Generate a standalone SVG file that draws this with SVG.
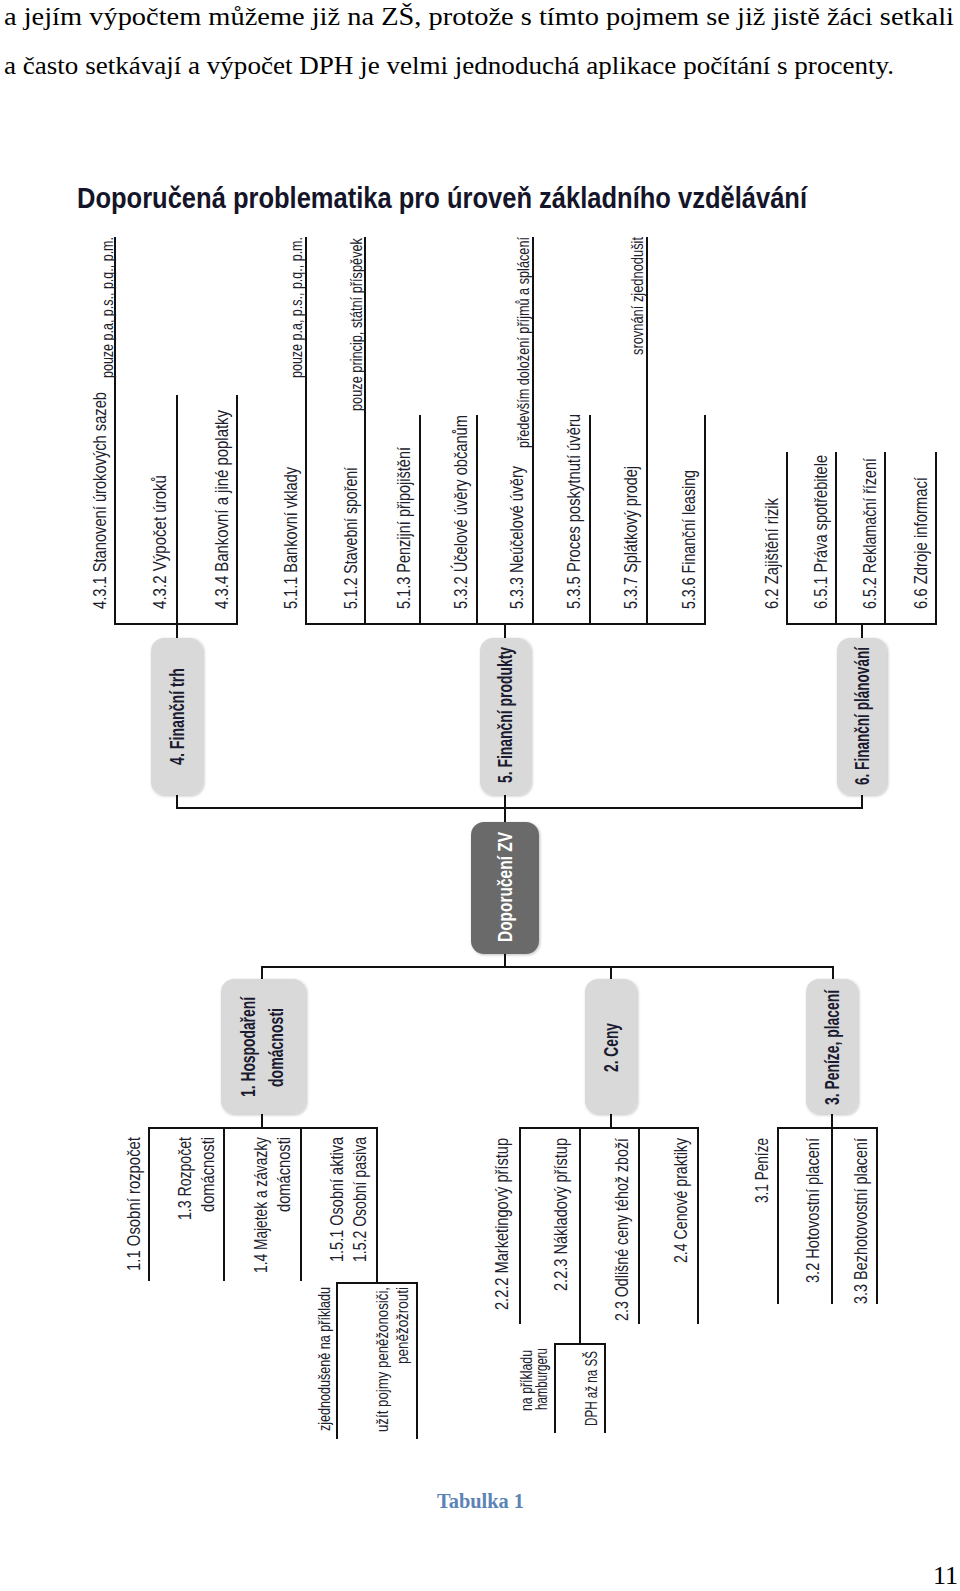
<svg xmlns="http://www.w3.org/2000/svg" width="960" height="1591" viewBox="0 0 960 1591">
<style>
.bg{fill:#fff}
.hd{font-family:"Liberation Serif","Times New Roman",serif;font-size:26px;fill:#000}
.ti{font-family:"Liberation Sans",Arial,sans-serif;font-size:29px;font-weight:bold;fill:#15152a}
.t{font-family:"Liberation Sans",Arial,sans-serif;font-size:19px;fill:#20202c}
.a{font-size:16px}
.nt{font-family:"Liberation Sans",Arial,sans-serif;font-size:20px;font-weight:bold;fill:#1a1a30}
.wt{fill:#fff}
.ln{stroke:#111;stroke-width:2;fill:none}
.box{fill:#d9d9d9;filter:url(#sh)}
.dark{fill:#6a6a6a;filter:url(#sh)}
.cap{font-family:"Liberation Serif","Times New Roman",serif;font-size:20px;font-weight:bold;fill:#5b83b5}
</style>
<defs>
<filter id="sh" x="-20%" y="-20%" width="140%" height="140%">
<feDropShadow dx="1" dy="1" stdDeviation="1.5" flood-color="#000" flood-opacity="0.25"/>
</filter>
</defs>
<rect class="bg" x="0" y="0" width="960" height="1591"/>
<text class="hd" x="4" y="25" textLength="950" lengthAdjust="spacingAndGlyphs">a jejím výpočtem můžeme již na ZŠ, protože s tímto pojmem se již jistě žáci setkali</text>
<text class="hd" x="4" y="74" textLength="890" lengthAdjust="spacingAndGlyphs">a často setkávají a výpočet DPH je velmi jednoduchá aplikace počítání s procenty.</text>
<text class="ti" x="77" y="208" textLength="730" lengthAdjust="spacingAndGlyphs">Doporučená problematika pro úroveň základního vzdělávání</text>

<g id="connectors" class="ln">
<path d="M115 237V624H237V395"/>
<path d="M177 395V638"/>
<path d="M306 237V624H705V415"/>
<path d="M365 237V624M420 415V624M477 415V624M533 237V624M590 415V624M647 237V624"/>
<path d="M505 624V638"/>
<path d="M787 452V624H936V452M836 452V624M885 452V624M862 624V638"/>
<path d="M177 795V808H862V795M505 795V822"/>
<path d="M505 954V967M262 979V967H833V979M611 967V979"/>
<path d="M262 1114V1128M149 1281V1128H377V1283M224 1128V1281M301 1128V1281M337 1439V1283H417V1439"/>
<path d="M611 1114V1128M520 1324V1128H698V1324M639 1128V1324M580 1128V1344M555 1433V1344H605V1433"/>
<path d="M832 1114V1128M778 1304V1128H877V1304M832 1128V1304"/>
</g>

<g id="node-root"><rect class="dark" x="471" y="822" width="68" height="132" rx="13"/><text class="nt wt" transform="translate(512,942) rotate(-90)" textLength="110" lengthAdjust="spacingAndGlyphs">Doporučení ZV</text></g>
<g id="node-4"><rect class="box" x="151" y="638" width="52" height="157" rx="13"/><text class="nt" transform="translate(184,765) rotate(-90)" textLength="97" lengthAdjust="spacingAndGlyphs">4. Finanční trh</text></g>
<g id="node-5"><rect class="box" x="480" y="638" width="51" height="157" rx="13"/><text class="nt" transform="translate(512,783) rotate(-90)" textLength="136" lengthAdjust="spacingAndGlyphs">5. Finanční produkty</text></g>
<g id="node-6"><rect class="box" x="837" y="638" width="50" height="157" rx="13"/><text class="nt" transform="translate(869,785) rotate(-90)" textLength="138" lengthAdjust="spacingAndGlyphs">6. Finanční plánování</text></g>
<g id="node-1"><rect class="box" x="221" y="979" width="85" height="135" rx="13"/><text class="nt" transform="translate(255,1097) rotate(-90)" textLength="100" lengthAdjust="spacingAndGlyphs">1. Hospodaření</text><text class="nt" transform="translate(283,1087) rotate(-90)" textLength="79" lengthAdjust="spacingAndGlyphs">domácnosti</text></g>
<g id="node-2"><rect class="box" x="585" y="979" width="52" height="135" rx="13"/><text class="nt" transform="translate(618,1072) rotate(-90)" textLength="49" lengthAdjust="spacingAndGlyphs">2. Ceny</text></g>
<g id="node-3"><rect class="box" x="806" y="979" width="52" height="135" rx="13"/><text class="nt" transform="translate(839,1105) rotate(-90)" textLength="115" lengthAdjust="spacingAndGlyphs">3. Peníze, placení</text></g>

<g id="items-4">
<text class="t" transform="translate(106,609) rotate(-90)" textLength="217" lengthAdjust="spacingAndGlyphs">4.3.1 Stanovení úrokových sazeb</text>
<text class="t a" transform="translate(113,378) rotate(-90)" textLength="141" lengthAdjust="spacingAndGlyphs">pouze p.a, p.s., p.q., p.m.</text>
<text class="t" transform="translate(166,609) rotate(-90)" textLength="134" lengthAdjust="spacingAndGlyphs">4.3.2 Výpočet úroků</text>
<text class="t" transform="translate(228,609) rotate(-90)" textLength="199" lengthAdjust="spacingAndGlyphs">4.3.4 Bankovní a jiné poplatky</text>
</g>
<g id="items-5">
<text class="t" transform="translate(297,609) rotate(-90)" textLength="142" lengthAdjust="spacingAndGlyphs">5.1.1 Bankovní vklady</text>
<text class="t a" transform="translate(302,378) rotate(-90)" textLength="141" lengthAdjust="spacingAndGlyphs">pouze p.a, p.s., p.q., p.m.</text>
<text class="t" transform="translate(357,609) rotate(-90)" textLength="142" lengthAdjust="spacingAndGlyphs">5.1.2 Stavební spoření</text>
<text class="t a" transform="translate(362,411) rotate(-90)" textLength="173" lengthAdjust="spacingAndGlyphs">pouze princip, státní příspěvek</text>
<text class="t" transform="translate(410,609) rotate(-90)" textLength="162" lengthAdjust="spacingAndGlyphs">5.1.3 Penzijní připojištění</text>
<text class="t" transform="translate(467,609) rotate(-90)" textLength="194" lengthAdjust="spacingAndGlyphs">5.3.2 Účelové úvěry občanům</text>
<text class="t" transform="translate(523,609) rotate(-90)" textLength="143" lengthAdjust="spacingAndGlyphs">5.3.3 Neúčelové úvěry</text>
<text class="t a" transform="translate(529,448) rotate(-90)" textLength="211" lengthAdjust="spacingAndGlyphs">především doložení příjmů a splácení</text>
<text class="t" transform="translate(580,609) rotate(-90)" textLength="195" lengthAdjust="spacingAndGlyphs">5.3.5 Proces poskytnutí úvěru</text>
<text class="t" transform="translate(637,609) rotate(-90)" textLength="143" lengthAdjust="spacingAndGlyphs">5.3.7 Splátkový prodej</text>
<text class="t a" transform="translate(643,355) rotate(-90)" textLength="118" lengthAdjust="spacingAndGlyphs">srovnání zjednodušit</text>
<text class="t" transform="translate(695,609) rotate(-90)" textLength="139" lengthAdjust="spacingAndGlyphs">5.3.6 Finanční leasing</text>
</g>
<g id="items-6">
<text class="t" transform="translate(778,609) rotate(-90)" textLength="111" lengthAdjust="spacingAndGlyphs">6.2 Zajištění rizik</text>
<text class="t" transform="translate(827,609) rotate(-90)" textLength="154" lengthAdjust="spacingAndGlyphs">6.5.1 Práva spotřebitele</text>
<text class="t" transform="translate(876,609) rotate(-90)" textLength="151" lengthAdjust="spacingAndGlyphs">6.5.2 Reklamační řízení</text>
<text class="t" transform="translate(927,609) rotate(-90)" textLength="132" lengthAdjust="spacingAndGlyphs">6.6 Zdroje informací</text>
</g>
<g id="items-1">
<text class="t" transform="translate(140,1271) rotate(-90)" textLength="134" lengthAdjust="spacingAndGlyphs">1.1 Osobní rozpočet</text>
<text class="t" transform="translate(191,1220) rotate(-90)" textLength="83" lengthAdjust="spacingAndGlyphs">1.3 Rozpočet</text>
<text class="t" transform="translate(214,1212) rotate(-90)" textLength="75" lengthAdjust="spacingAndGlyphs">domácnosti</text>
<text class="t" transform="translate(267,1273) rotate(-90)" textLength="136" lengthAdjust="spacingAndGlyphs">1.4 Majetek a závazky</text>
<text class="t" transform="translate(290,1212) rotate(-90)" textLength="75" lengthAdjust="spacingAndGlyphs">domácnosti</text>
<text class="t" transform="translate(343,1262) rotate(-90)" textLength="125" lengthAdjust="spacingAndGlyphs">1.5.1 Osobní aktiva</text>
<text class="t" transform="translate(366,1262) rotate(-90)" textLength="125" lengthAdjust="spacingAndGlyphs">1.5.2 Osobní pasiva</text>
<text class="t a" transform="translate(330,1431) rotate(-90)" textLength="144" lengthAdjust="spacingAndGlyphs">zjednodušeně na příkladu</text>
<text class="t a" transform="translate(388,1432) rotate(-90)" textLength="145" lengthAdjust="spacingAndGlyphs">užít pojmy peněžonosiči,</text>
<text class="t a" transform="translate(408,1364) rotate(-90)" textLength="77" lengthAdjust="spacingAndGlyphs">peněžožrouti</text>
</g>
<g id="items-2">
<text class="t" transform="translate(508,1310) rotate(-90)" textLength="172" lengthAdjust="spacingAndGlyphs">2.2.2 Marketingový přístup</text>
<text class="t" transform="translate(567,1291) rotate(-90)" textLength="153" lengthAdjust="spacingAndGlyphs">2.2.3 Nákladový přístup</text>
<text class="t" transform="translate(628,1321) rotate(-90)" textLength="183" lengthAdjust="spacingAndGlyphs">2.3 Odlišné ceny téhož zboží</text>
<text class="t" transform="translate(687,1263) rotate(-90)" textLength="125" lengthAdjust="spacingAndGlyphs">2.4 Cenové praktiky</text>
<text class="t a" transform="translate(532,1411) rotate(-90)" textLength="61" lengthAdjust="spacingAndGlyphs">na příkladu</text>
<text class="t a" transform="translate(547,1410) rotate(-90)" textLength="62" lengthAdjust="spacingAndGlyphs">hamburgeru</text>
<text class="t a" transform="translate(597,1426) rotate(-90)" textLength="75" lengthAdjust="spacingAndGlyphs">DPH až na SŠ</text>
</g>
<g id="items-3">
<text class="t" transform="translate(768,1203) rotate(-90)" textLength="65" lengthAdjust="spacingAndGlyphs">3.1 Peníze</text>
<text class="t" transform="translate(819,1283) rotate(-90)" textLength="145" lengthAdjust="spacingAndGlyphs">3.2 Hotovostní placení</text>
<text class="t" transform="translate(867,1304) rotate(-90)" textLength="166" lengthAdjust="spacingAndGlyphs">3.3 Bezhotovostní placení</text>
</g>

<text class="cap" x="437" y="1508" textLength="87" lengthAdjust="spacingAndGlyphs">Tabulka 1</text>
<text class="hd" x="933" y="1584">11</text>
</svg>
